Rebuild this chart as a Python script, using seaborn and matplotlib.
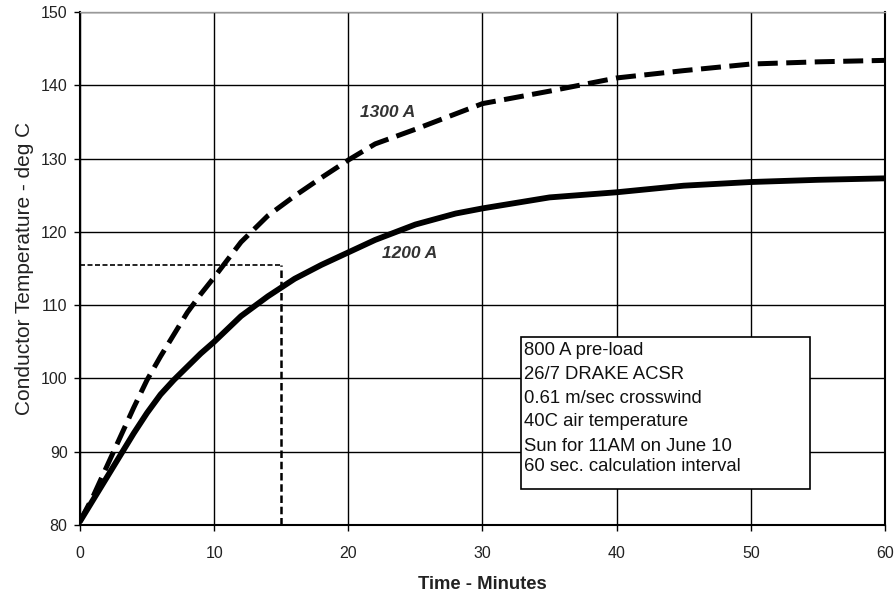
import matplotlib
matplotlib.use("Agg")
import matplotlib.pyplot as plt
import seaborn as sns
import pandas as pd
from matplotlib.patches import Rectangle

# ---- data ----
time_1200 = [0, 1, 2, 3, 4, 5, 6, 7, 8, 9, 10, 12, 14, 16, 18, 20, 22, 25, 28, 30, 35, 40, 45, 50, 55, 60]
temp_1200 = [80.5, 83.5, 86.5, 89.5, 92.5, 95.3, 97.8, 99.8, 101.6, 103.4, 105.0, 108.5, 111.2, 113.6, 115.5,
             117.2, 118.9, 121.0, 122.5, 123.2, 124.7, 125.4, 126.3, 126.8, 127.1, 127.3]
time_1300 = [0, 1, 2, 3, 4, 5, 6, 7, 8, 9, 10, 12, 14, 16, 18, 20, 22, 25, 28, 30, 35, 40, 45, 50, 55, 60]
temp_1300 = [80.5, 84.0, 88.0, 92.0, 96.0, 99.8, 103.0, 106.0, 109.0, 111.5, 113.8, 118.6, 122.2, 124.9, 127.4,
             129.8, 132.0, 134.0, 136.1, 137.5, 139.2, 141.0, 142.0, 142.9, 143.2, 143.4]
marker_time = 15
marker_temp = 115.5
x_ticks = [0, 10, 20, 30, 40, 50, 60]
y_ticks = [80, 90, 100, 110, 120, 130, 140, 150]
box_lines = ["800 A pre-load", "26/7 DRAKE ACSR", "0.61 m/sec crosswind",
             "40C air temperature", "Sun for 11AM on June 10", "60 sec. calculation interval"]

sns.set_theme(style="white")
plt.rcParams['font.family'] = ['Liberation Sans', 'DejaVu Sans']

fig = plt.figure(figsize=(8.96, 5.94), dpi=100)
ax = fig.add_axes([0.0893, 0.1162, 0.8984, 0.8636])

df1200 = pd.DataFrame({"t": time_1200, "T": temp_1200})
df1300 = pd.DataFrame({"t": time_1300, "T": temp_1300})

# grid
for xv in x_ticks:
    ax.axvline(xv, color="black", lw=1.0, zorder=1)
for yv in y_ticks:
    ax.axhline(yv, color="black", lw=1.0, zorder=1)

sns.lineplot(data=df1300, x="t", y="T", ax=ax, color="black", lw=3.6, zorder=3)
ax.lines[-1].set_dashes([4, 1.7])
sns.lineplot(data=df1200, x="t", y="T", ax=ax, color="black", lw=4.2, zorder=3)

# dotted marker lines
ax.plot([0, marker_time], [marker_temp, marker_temp], color="black", lw=1.2, ls=(0, (3, 1.5)), zorder=2)
ax.plot([marker_time, marker_time], [80, marker_temp], color="black", lw=1.8, ls=(0, (3, 1.5)), zorder=2)

ax.text(22.95, 136.3, "1300 A", style="italic", fontweight="bold", fontsize=12.5, color="#333333",
        ha="center", va="center", zorder=4)
ax.text(24.6, 117.0, "1200 A", style="italic", fontweight="bold", fontsize=12.5, color="#333333",
        ha="center", va="center", zorder=4)

# info box
ax.add_patch(Rectangle((32.9, 84.9), 54.4 - 32.9, 105.6 - 84.9, facecolor="white",
                       edgecolor="black", lw=1.2, zorder=5))
line_y = [103.78, 100.6, 97.29, 94.09, 90.68, 87.95]
for txt, yy in zip(box_lines, line_y):
    ax.text(33.1, yy, txt, fontsize=13.3, color="#111111", ha="left", va="center", zorder=6)

ax.set_xlim(0, 60)
ax.set_ylim(80, 150)
ax.set_xticks(x_ticks)
ax.set_yticks(y_ticks)
ax.tick_params(axis="both", labelsize=11.5, colors="black", length=4, width=1, direction="out",
               left=True, bottom=True, labelcolor="#222222")
ax.tick_params(axis="x", pad=11)
ax.tick_params(axis="y", pad=5)
ax.set_xlabel("Time - Minutes", fontsize=13.3, fontweight="bold", color="#222222", labelpad=11)
ax.set_ylabel("Conductor Temperature - deg C", fontsize=15, color="#222222", labelpad=5)
for s in ["left", "bottom", "right"]:
    ax.spines[s].set_color("black")
    ax.spines[s].set_linewidth(1.5)
ax.spines["top"].set_color("#999999")
ax.spines["top"].set_linewidth(1.0)

fig.savefig("out.png", dpi=100)
